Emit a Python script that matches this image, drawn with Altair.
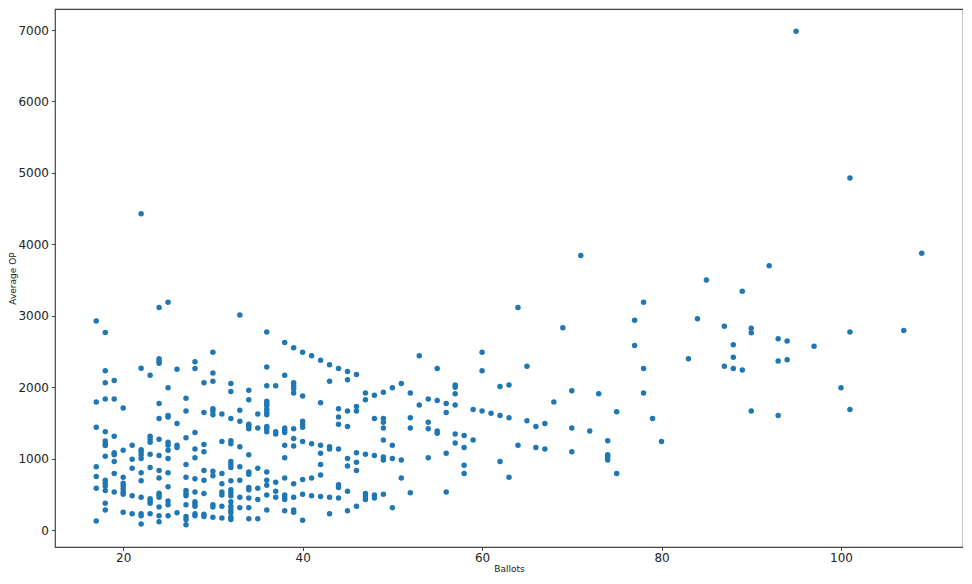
import altair as alt
import pandas as pd

# Ballots (x) and Average OP (y), one line per ballot count
ballots = [
    17, 17, 17, 17, 17, 17, 17,
    18, 18, 18, 18, 18, 18, 18, 18, 18, 18, 18, 18, 18, 18, 18,
    19, 19, 19, 19, 19, 19, 19, 19,
    20, 20, 20, 20, 20, 20, 20, 20, 20,
    21, 21, 21, 21, 21,
    22, 22, 22, 22, 22, 22, 22, 22, 22, 22, 22, 22,
    23, 23, 23, 23, 23, 23, 23, 23, 23, 23,
    24, 24, 24, 24, 24, 24, 24, 24, 24, 24, 24, 24, 24, 24, 24, 24,
    25, 25, 25, 25, 25, 25, 25, 25, 25, 25, 25, 25, 25,
    26, 26, 26, 26, 26,
    27, 27, 27, 27, 27, 27, 27, 27, 27, 27, 27, 27,
    28, 28, 28, 28, 28, 28, 28, 28, 28, 28, 28, 28,
    29, 29, 29, 29, 29, 29, 29, 29, 29,
    30, 30, 30, 30, 30, 30, 30, 30, 30, 30, 30,
    31, 31, 31, 31, 31, 31, 31, 31,
    32, 32, 32, 32, 32, 32, 32, 32, 32, 32, 32, 32, 32, 32, 32, 32, 32, 32,
    33, 33, 33, 33, 33, 33, 33, 33,
    34, 34, 34, 34, 34, 34, 34, 34, 34, 34, 34, 34, 34,
    35, 35, 35, 35, 35, 35,
    36, 36, 36, 36, 36, 36, 36, 36, 36, 36, 36, 36, 36, 36, 36, 36, 36,
    37, 37, 37, 37, 37, 37,
    38, 38, 38, 38, 38, 38, 38, 38, 38, 38, 38, 38,
    39, 39, 39, 39, 39, 39, 39, 39, 39, 39, 39, 39,
    40, 40, 40, 40, 40, 40, 40, 40, 40,
    41, 41, 41, 41,
    42, 42, 42, 42, 42, 42, 42,
    43, 43, 43, 43, 43, 43,
    44, 44, 44, 44, 44, 44, 44, 44,
    45, 45, 45, 45, 45, 45, 45, 45,
    46, 46, 46, 46, 46, 46, 46,
    47, 47, 47, 47, 47, 47,
    48, 48, 48, 48, 48,
    49, 49, 49, 49, 49, 49, 49, 49,
    50, 50, 50, 50,
    51, 51, 51,
    52, 52, 52, 52,
    53, 53,
    54, 54, 54, 54,
    55, 55, 55, 55,
    56, 56, 56, 56,
    57, 57, 57, 57, 57, 57,
    58, 58, 58, 58,
    59, 59,
    60, 60, 60,
    61,
    62, 62, 62,
    63, 63, 63,
    64, 64,
    65, 65,
    66, 66,
    67, 67,
    68,
    69,
    70, 70, 70,
    71,
    72,
    73,
    74, 74, 74, 74,
    75, 75,
    77, 77,
    78, 78, 78,
    79,
    80,
    83,
    84,
    85,
    87, 87,
    88, 88, 88,
    89, 89,
    90, 90, 90,
    92,
    93, 93, 93,
    94, 94,
    95,
    97,
    100,
    101, 101, 101,
    107,
    109,
]

avg_op = [
    2927, 1792, 1437, 885, 750, 583, 125,
    2766, 2229, 2062, 1833, 1375, 1245, 1208, 1182, 1031, 698, 656, 615, 552, 375, 281,
    2094, 1833, 1312, 1083, 1052, 958, 792, 531,
    1708, 1115, 740, 656, 615, 573, 531, 500, 250,
    1187, 990, 865, 479, 229,
    4427, 2266, 1125, 1094, 1052, 1000, 802, 688, 458, 229, 198, 83,
    2167, 1312, 1270, 1229, 1062, 875, 437, 406, 375, 229,
    3115, 2396, 2365, 2333, 1771, 1562, 1271, 1042, 833, 729, 516, 490, 458, 323, 198, 115,
    3187, 1990, 1604, 1583, 1229, 1187, 1115, 1000, 802, 604, 406, 354, 198,
    2250, 1490, 1187, 1156, 240,
    1844, 1667, 1292, 917, 740, 552, 510, 479, 354, 188, 146, 73,
    2354, 2260, 1365, 1135, 1010, 719, 531, 396, 365, 333, 229, 198,
    2062, 1646, 1198, 1094, 833, 698, 510, 219, 188,
    2490, 2198, 2083, 1698, 1667, 1615, 823, 760, 354, 323, 177,
    1625, 1240, 792, 646, 531, 490, 333, 167,
    2052, 1938, 1562, 1250, 1208, 958, 917, 875, 688, 562, 521, 479, 396, 333, 281, 240, 177, 146,
    3010, 1677, 1521, 1167, 885, 698, 458, 312,
    1958, 1823, 1479, 1448, 1417, 1052, 812, 781, 594, 562, 448, 312, 156,
    1625, 1427, 865, 583, 427, 156,
    2771, 2281, 2021, 1802, 1771, 1740, 1687, 1646, 1615, 1448, 1417, 1375, 812, 698, 625, 490, 281,
    2021, 1375, 1344, 667, 542, 458,
    2625, 2167, 1427, 1396, 1365, 1187, 1010, 729, 490, 458, 427, 271,
    2552, 2062, 2021, 1979, 1917, 1417, 1281, 1177, 646, 458, 281, 250,
    2490, 1875, 1521, 1479, 1437, 1240, 708, 500, 135,
    2438, 1208, 729, 479,
    2375, 1781, 1187, 1073, 917, 771, 469,
    2312, 2083, 1167, 1135, 458, 229,
    2260, 1698, 1583, 1479, 1135, 635, 594, 448,
    2219, 2104, 1667, 1448, 1000, 896, 542, 271,
    2177, 1729, 1667, 1083, 948, 833, 333,
    1917, 1823, 1062, 510, 469, 427,
    1885, 1562, 1042, 490, 448,
    1927, 1562, 1510, 1427, 1260, 1021, 979, 500,
    1990, 1187, 1000, 312,
    2052, 979, 729,
    1917, 1573, 1427, 521,
    2438, 1750,
    1833, 1510, 1417, 1010,
    2260, 1812, 1385, 1354,
    1771, 1646, 1073, 531,
    2031, 2000, 1906, 1750, 1344, 1219,
    1323, 1156, 906, 792,
    1687, 1260,
    2490, 2229, 1667,
    1635,
    2010, 1604, 958,
    2031, 1573, 740,
    3115, 1187,
    2292, 1531,
    1448, 1156,
    1490, 1135,
    1792,
    2833,
    1948, 1427, 1094,
    3844,
    1385,
    1906,
    1250, 1052, 1021, 979,
    1656, 792,
    2937, 2583,
    3187, 2260, 1917,
    1562,
    1240,
    2396,
    2958,
    3500,
    2854, 2292,
    2594, 2417, 2260,
    3344, 2240,
    2823, 2760, 1667,
    3698,
    2677, 2365, 1604,
    2646, 2385,
    6984,
    2573,
    1990,
    4927, 2771, 1687,
    2792,
    3875,
]

x_ticks = [20, 40, 60, 80, 100]
y_ticks = [0, 1000, 2000, 3000, 4000, 5000, 6000, 7000]

df = pd.DataFrame({"Ballots": ballots, "Average OP": avg_op})

axis_style = dict(
    grid=False, domain=False, tickSize=3.5, tickColor="#444",
    labelFontSize=12, labelColor="#222", labelFont="DejaVu Sans", format="d",
    titleFontSize=9, titleFontWeight="normal", titleFont="DejaVu Sans",
    titleColor="#222",
)

chart = (
    alt.Chart(df)
    .mark_circle(size=30, color="#1f77b4", opacity=1)
    .encode(
        x=alt.X(
            "Ballots:Q",
            scale=alt.Scale(domain=[12.4, 113.6], nice=False, zero=False),
            axis=alt.Axis(values=x_ticks, title="Ballots", labelPadding=2,
                          titlePadding=1, **axis_style),
        ),
        y=alt.Y(
            "Average OP:Q",
            scale=alt.Scale(domain=[-238, 7294], nice=False, zero=False),
            axis=alt.Axis(values=y_ticks, title="Average OP", labelPadding=3,
                          titlePadding=0, **axis_style),
        ),
    )
    .properties(
        width=908,
        height=538,
        autosize=alt.AutoSizeParams(type="none"),
        padding={"left": 47, "top": 1, "right": 0, "bottom": 29},
    )
    .configure_view(stroke="#444", strokeWidth=1.2)
)

chart.save("out.html", embed_options={"renderer": "svg", "actions": False})
